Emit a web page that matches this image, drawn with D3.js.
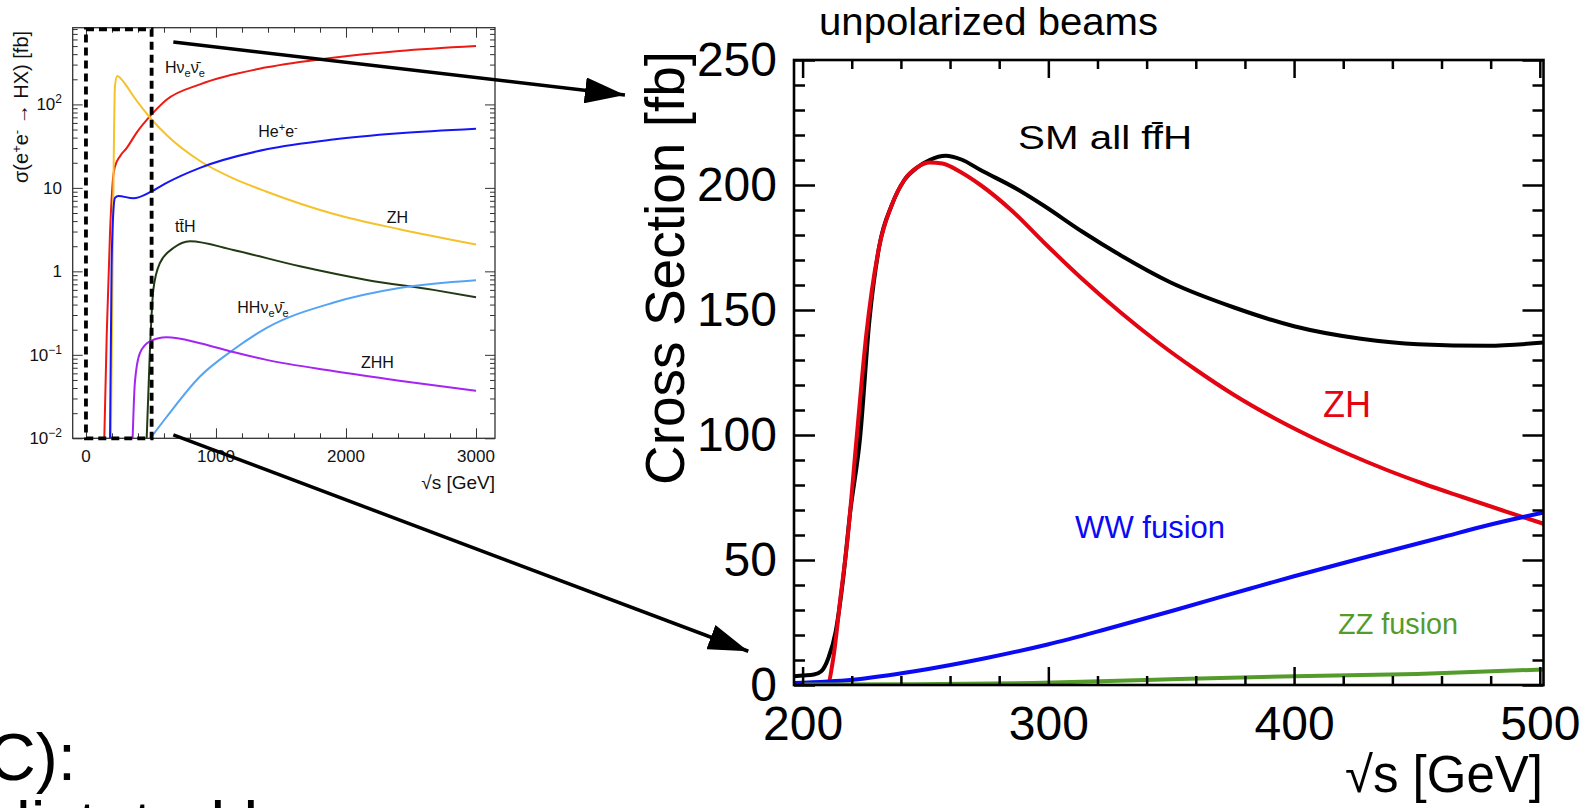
<!DOCTYPE html>
<html>
<head>
<meta charset="utf-8">
<script src="https://cdn.jsdelivr.net/npm/d3@7/dist/d3.min.js"></script>
<style>
  body { margin: 0; background: #fff; }
  svg { display: block; font-family: "Liberation Sans", Arial, Helvetica, sans-serif; }
</style>
</head>
<body>
<svg id="fig" width="1595" height="808"></svg>
<script>
// ---------- overview panel (log scale), sqrt(s) in GeV, sigma in fb ----------
const hnnX  = [141, 160, 185, 210, 223, 262, 313, 390, 505, 620, 877, 1390, 1900, 2410, 3000];
const hnnY  = [0.01, 0.18, 2.9, 13.8, 18, 24, 30, 46, 76, 114, 174, 278, 363, 436, 500];
const zhLX  = [192, 210, 223, 241, 262, 313, 364, 441, 505, 620, 877, 1133, 1390, 1900, 2410, 3000];
const zhLY  = [0.01, 7.2, 166, 219, 209, 166, 126, 87, 66, 43, 21, 13, 9, 4.9, 3.2, 2.1];
const heeX  = [185, 197, 210, 223, 249, 364, 505, 620, 877, 1390, 1900, 2410, 3000];
const heeY  = [0.01, 1.15, 5.0, 7.6, 8.0, 7.5, 9.1, 11.5, 17.4, 29, 38, 45, 51];
const tthX  = [467, 492, 518, 569, 672, 800, 1133, 1646, 2159, 2672, 3000];
const tthY  = [0.01, 0.115, 0.60, 1.26, 1.9, 2.3, 1.8, 1.15, 0.79, 0.60, 0.49];
const hhnnX = [495, 620, 877, 1133, 1390, 1900, 2410, 3000];
const hhnnY = [0.01, 0.018, 0.055, 0.115, 0.21, 0.42, 0.63, 0.78];
const zhhX  = [359, 376, 415, 492, 620, 877, 1133, 1390, 1900, 2410, 3000];
const zhhY  = [0.01, 0.046, 0.105, 0.145, 0.162, 0.138, 0.108, 0.087, 0.064, 0.049, 0.037];

const lxTickLabels = [0, 1000, 2000, 3000];
const lyTickLabels = [
  { v: 0.01, base: "10", exp: "\u22122" },
  { v: 0.1,  base: "10", exp: "\u22121" },
  { v: 1,    base: "1",  exp: "" },
  { v: 10,   base: "10", exp: "" },
  { v: 100,  base: "10", exp: "2" }
];
const zoomBox = { x0: 0, x1: 505, y0: 0.01, y1: 794 };

// ---------- zoomed panel (linear), 200-500 GeV ----------
const allX = [196.5, 200, 204.6, 207.6, 210.5, 213.5, 216.4, 219.3, 223.4, 227.2, 231.1, 236.3, 241.4, 246.6, 251.7, 258.2, 264.6, 272.4, 287.9, 298.2, 313.7, 329.2, 349.8, 375.6, 400, 427.2, 450.4, 478.8, 501.5];
const allY = [3.5, 3.8, 4.2, 5.5, 10.8, 21.6, 41.7, 68.6, 99, 146, 175, 192, 202, 207, 210, 211.7, 210.2, 206, 198, 191.7, 181.4, 172, 161, 151, 143.5, 138.5, 136.3, 135.7, 137];
const zhX  = [196.5, 210, 212.5, 215.4, 218.2, 222, 225.9, 231.1, 236.3, 241.4, 246.6, 251.7, 256.9, 264.6, 272.4, 285.3, 298.2, 313.7, 329.2, 344.7, 360.2, 375.6, 391.1, 406.6, 422.1, 437.5, 453, 468.5, 484, 501.5];
const zhY  = [0, 0, 10.8, 34.8, 57.7, 99, 140, 175, 192, 202, 207, 209, 208.6, 205, 200, 189.6, 177, 162.5, 149.2, 137, 126, 116, 107.2, 99.4, 92.4, 86.1, 80.4, 75.2, 70.1, 64.5];
const wwX  = [196.5, 220.3, 245.6, 274.8, 299.7, 323.4, 352.7, 381.9, 400, 430.5, 459.8, 479.2, 501.5];
const wwY  = [0.8, 2.1, 5.5, 10.8, 16.2, 22.3, 30.3, 38.5, 43.5, 51.5, 59, 64, 69];
const zzX  = [200, 245.6, 294, 343, 400, 450, 501.5];
const zzY  = [0.2, 0.3, 0.8, 2.1, 3.5, 4.4, 6.2];

const rxTickLabels = [200, 300, 400, 500];
const ryTickLabels = [0, 50, 100, 150, 200, 250];

const svg = d3.select("#fig");
const FONT = "'Liberation Sans', Arial, Helvetica, sans-serif";

function styleAxis(g, width) {
  g.select(".domain").remove();
  g.attr("font-family", FONT).attr("font-size", null);
  g.selectAll(".tick line").attr("stroke-width", width);
}

// ======================= overview panel =======================
const lx = d3.scaleLinear().domain([-102, 3146]).range([72.7, 495]);
const ly = d3.scaleLog().domain([0.01, 830]).range([438.3, 27.7]);
const L = svg.append("g");

const lxMinor = d3.range(0, 3146, 200).filter(d => d % 1000 !== 0);
const lyMinor = [];
[0.01, 0.1, 1, 10, 100].forEach(dec => d3.range(2, 10).forEach(k => { if (dec * k < 830) lyMinor.push(dec * k); }));

[[d3.axisBottom, 438.3], [d3.axisTop, 27.7]].forEach(([ax, y]) => {
  L.append("g").attr("transform", `translate(0,${y})`)
    .call(ax(lx).tickValues(lxTickLabels).tickSize(-10).tickFormat(""))
    .call(styleAxis, 1).attr("color", "#333");
  L.append("g").attr("transform", `translate(0,${y})`)
    .call(ax(lx).tickValues(lxMinor).tickSize(-5).tickFormat(""))
    .call(styleAxis, 1).attr("color", "#333");
});
[[d3.axisLeft, 72.7], [d3.axisRight, 495]].forEach(([ax, x]) => {
  L.append("g").attr("transform", `translate(${x},0)`)
    .call(ax(ly).tickValues(lyTickLabels.map(d => d.v)).tickSize(-10).tickFormat(""))
    .call(styleAxis, 1).attr("color", "#333");
  L.append("g").attr("transform", `translate(${x},0)`)
    .call(ax(ly).tickValues(lyMinor).tickSize(-5).tickFormat(""))
    .call(styleAxis, 1).attr("color", "#333");
});

L.append("rect")
  .attr("x", 72.7).attr("y", 27.7).attr("width", 495 - 72.7).attr("height", 438.3 - 27.7)
  .attr("fill", "none").attr("stroke", "#333").attr("stroke-width", 1.3);

// tick labels
L.append("g").selectAll("text").data(lxTickLabels).join("text")
  .attr("x", d => lx(d)).attr("y", 462)
  .attr("text-anchor", "middle").attr("font-size", 17).attr("fill", "#111")
  .text(d => d);

const lyl = L.append("g").selectAll("text").data(lyTickLabels).join("text")
  .attr("x", 62).attr("y", d => ly(d.v) + 6)
  .attr("text-anchor", "end").attr("font-size", 17).attr("fill", "#111");
lyl.append("tspan").text(d => d.base);
lyl.filter(d => d.exp).append("tspan").attr("dy", -7).attr("font-size", 12).text(d => d.exp);

L.append("text")
  .attr("x", 495).attr("y", 489).attr("text-anchor", "end")
  .attr("font-size", 19).attr("fill", "#111")
  .text("\u221As [GeV]");

const lyt = L.append("text")
  .attr("transform", "translate(28,183) rotate(-90)")
  .attr("font-size", 20).attr("fill", "#111");
lyt.append("tspan").text("\u03C3(e");
lyt.append("tspan").attr("dy", -7).attr("font-size", 13).text("+");
lyt.append("tspan").attr("dy", 7).text("e");
lyt.append("tspan").attr("dy", -7).attr("font-size", 13).text("-");
lyt.append("tspan").attr("dy", 7).text(" \u2192 HX) [fb]");

// curves
const lline = d3.line().x(d => lx(d[0])).y(d => ly(d[1])).curve(d3.curveMonotoneX);
const lseries = [
  [hnnX, hnnY, "#ec1a12"],
  [zhLX, zhLY, "#f5c22c"],
  [heeX, heeY, "#1616f5"],
  [tthX, tthY, "#213a14"],
  [hhnnX, hhnnY, "#55a4f4"],
  [zhhX, zhhY, "#a424f2"]
];
L.append("g").selectAll("path").data(lseries).join("path")
  .attr("d", d => lline(d3.zip(d[0], d[1])))
  .attr("fill", "none").attr("stroke", d => d[2]).attr("stroke-width", 2);

// labels
function llabel(x, y, parts) {
  const t = L.append("text").attr("x", lx(x)).attr("y", ly(y)).attr("font-size", 16).attr("fill", "#111");
  let shift = 0;
  parts.forEach(([s, kind]) => {
    const target = kind === "sub" ? 4 : kind === "sup" ? -6 : 0;
    t.append("tspan").attr("dy", target - shift).attr("font-size", kind ? 11 : 16).text(s);
    shift = target;
  });
}
llabel(608, 238, [["H\u03BD"], ["e", "sub"], ["\u03BD\u0304"], ["e", "sub"]]);
llabel(1325, 41, [["He"], ["+", "sup"], ["e"], ["-", "sup"]]);
llabel(2313, 3.83, [["ZH"]]);
llabel(685, 2.94, [["tt\u0304H"]]);
llabel(1164, 0.314, [["HH\u03BD"], ["e", "sub"], ["\u03BD\u0304"], ["e", "sub"]]);
llabel(2115, 0.069, [["ZHH"]]);

// dashed zoom box
L.append("rect")
  .attr("x", lx(zoomBox.x0)).attr("y", ly(zoomBox.y1))
  .attr("width", lx(zoomBox.x1) - lx(zoomBox.x0))
  .attr("height", ly(zoomBox.y0) - ly(zoomBox.y1))
  .attr("fill", "none").attr("stroke", "#000").attr("stroke-width", 3.8)
  .attr("stroke-dasharray", "8,5");

// ======================= zoomed panel =======================
const rx = d3.scaleLinear().domain([196.5, 501.5]).range([794, 1543.5]);
const ry = d3.scaleLinear().domain([0, 250]).range([685, 60]);
const R = svg.append("g");

const rxMinor = d3.range(200, 501, 20).filter(d => d % 100 !== 0);
const ryMinor = d3.range(0, 251, 10).filter(d => d % 50 !== 0);

svg.append("defs").append("clipPath").attr("id", "rclip")
  .append("rect").attr("x", 794).attr("y", 60).attr("width", 749.5).attr("height", 625);

// curves
const rline = d3.line().x(d => rx(d[0])).y(d => ry(d[1])).curve(d3.curveMonotoneX);
const rseries = [
  [allX, allY, "#000000"],
  [zhX, zhY, "#e30512"],
  [wwX, wwY, "#0a0af5"],
  [zzX, zzY, "#549b2c"]
];
R.append("g").attr("clip-path", "url(#rclip)")
  .selectAll("path").data(rseries).join("path")
  .attr("d", d => rline(d3.zip(d[0], d[1])))
  .attr("fill", "none").attr("stroke", d => d[2]).attr("stroke-width", 4)
  .attr("stroke-linejoin", "round");

// ticks (pointing inward, on all four sides)
R.append("g").attr("transform", "translate(0,685)")
  .call(d3.axisBottom(rx).tickValues(rxTickLabels).tickSizeInner(-18).tickSizeOuter(0).tickPadding(21).tickFormat(d3.format("d")))
  .call(styleAxis, 2.5)
  .selectAll("text").attr("font-size", 48).attr("fill", "#000");
R.append("g").attr("transform", "translate(0,685)")
  .call(d3.axisBottom(rx).tickValues(rxMinor).tickSize(-9).tickFormat(""))
  .call(styleAxis, 2.5);
R.append("g").attr("transform", "translate(0,60)")
  .call(d3.axisTop(rx).tickValues(rxTickLabels).tickSize(-18).tickFormat(""))
  .call(styleAxis, 2.5);
R.append("g").attr("transform", "translate(0,60)")
  .call(d3.axisTop(rx).tickValues(rxMinor).tickSize(-9).tickFormat(""))
  .call(styleAxis, 2.5);
R.append("g").attr("transform", "translate(794,0)")
  .call(d3.axisLeft(ry).tickValues(ryTickLabels).tickSizeInner(-21).tickSizeOuter(0).tickPadding(17).tickFormat(d3.format("d")))
  .call(styleAxis, 2.5)
  .selectAll("text").attr("font-size", 48).attr("fill", "#000");
R.append("g").attr("transform", "translate(794,0)")
  .call(d3.axisLeft(ry).tickValues(ryMinor).tickSize(-11).tickFormat(""))
  .call(styleAxis, 2.5);
R.append("g").attr("transform", "translate(1543.5,0)")
  .call(d3.axisRight(ry).tickValues(ryTickLabels).tickSize(-21).tickFormat(""))
  .call(styleAxis, 2.5);
R.append("g").attr("transform", "translate(1543.5,0)")
  .call(d3.axisRight(ry).tickValues(ryMinor).tickSize(-11).tickFormat(""))
  .call(styleAxis, 2.5);

R.append("rect")
  .attr("x", 794).attr("y", 60).attr("width", 749.5).attr("height", 625)
  .attr("fill", "none").attr("stroke", "#000").attr("stroke-width", 2.6);

// titles and labels
R.append("text")
  .attr("transform", "translate(684,485) rotate(-90)")
  .attr("font-size", 55).attr("fill", "#000")
  .text("Cross Section [fb]");
R.append("text")
  .attr("x", 1543).attr("y", 792).attr("text-anchor", "end")
  .attr("font-size", 51).attr("fill", "#000")
  .text("\u221As [GeV]");
R.append("text")
  .attr("x", rx(206.7)).attr("y", ry(260)).attr("font-size", 38)
  .attr("textLength", 339).attr("lengthAdjust", "spacingAndGlyphs")
  .text("unpolarized beams");
R.append("text")
  .attr("x", rx(287.7)).attr("y", ry(214.4)).attr("font-size", 33)
  .attr("textLength", 174).attr("lengthAdjust", "spacingAndGlyphs")
  .text("SM all ff\u0304H");
R.append("text")
  .attr("x", rx(411.8)).attr("y", ry(107.4)).attr("font-size", 36).attr("fill", "#e30512")
  .text("ZH");
R.append("text")
  .attr("x", rx(310.9)).attr("y", ry(58.9)).attr("font-size", 31).attr("fill", "#0a0af5")
  .attr("textLength", 150).attr("lengthAdjust", "spacingAndGlyphs")
  .text("WW fusion");
R.append("text")
  .attr("x", rx(417.9)).attr("y", ry(20.5)).attr("font-size", 29).attr("fill", "#549b2c")
  .attr("textLength", 120).attr("lengthAdjust", "spacingAndGlyphs")
  .text("ZZ fusion");

// ======================= arrows linking the panels =======================
const arrows = [
  { from: [672, 560],  to: [127.7, 236] },
  { from: [672, 0.011], to: [177.9, 13.5] }
];
svg.select("defs").append("marker")
  .attr("id", "head").attr("viewBox", "0 0 40 26")
  .attr("refX", 40).attr("refY", 13)
  .attr("markerWidth", 40).attr("markerHeight", 26)
  .attr("markerUnits", "userSpaceOnUse").attr("orient", "auto")
  .append("path").attr("d", "M0,0L40,13L0,26Z").attr("fill", "#000");

svg.append("g").selectAll("line").data(arrows).join("line")
  .attr("x1", d => lx(d.from[0])).attr("y1", d => ly(d.from[1]))
  .attr("x2", d => rx(d.to[0])).attr("y2", d => ry(d.to[1]))
  .attr("stroke", "#000").attr("stroke-width", 3.5)
  .attr("marker-end", "url(#head)");

// ======================= surrounding slide text (cropped) =======================
svg.append("text").attr("x", -12).attr("y", 780).attr("font-size", 66).text("C):");
svg.append("text").attr("x", -6).attr("y", 848).attr("font-size", 66).text("dictated by");
</script>
</body>
</html>
